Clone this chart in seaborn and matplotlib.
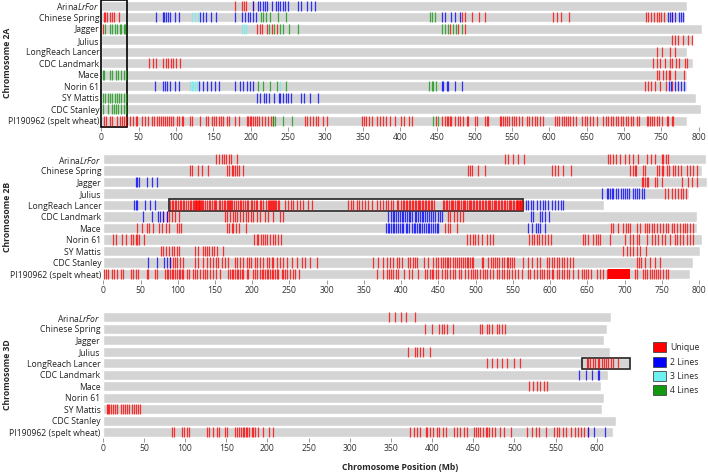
import numpy as np
import pandas as pd
import seaborn as sns
import matplotlib.pyplot as plt
from matplotlib.patches import Rectangle, Patch

lines = ["ArinaLrFor", "Chinese Spring", "Jagger", "Julius", "LongReach Lancer",
         "CDC Landmark", "Mace", "Norin 61", "SY Mattis", "CDC Stanley", "PI190962"]
line_labels = ["Arina$\\mathit{LrFor}$", "Chinese Spring", "Jagger", "Julius", "LongReach Lancer",
               "CDC Landmark", "Mace", "Norin 61", "SY Mattis", "CDC Stanley", "PI190962 (spelt wheat)"]

# chromosome lengths (Mb) per line
len_2A = [785, 782, 805, 792, 785, 792, 784, 785, 797, 803, 785]
len_2B = [810, 804, 811, 786, 672, 798, 798, 804, 802, 792, 788]
len_3D = [617, 612, 609, 616, 640, 614, 605, 609, 607, 624, 620]

# ---- chromosome 2A ----
unique_2A = {
    "ArinaLrFor": [179, 189, 191, 194, 203],
    "Chinese Spring": [3, 5, 7, 12, 14, 17, 24, 483, 487, 497, 506, 514, 605, 611, 616, 626,
                       730, 733, 737, 740, 744, 747, 750, 754, 765],
    "Jagger": [2, 208, 212, 215, 222, 229, 235, 467, 478, 487],
    "Julius": [764, 768, 773, 779, 786, 791],
    "LongReach Lancer": [745, 751, 762, 768],
    "CDC Landmark": [64, 69, 73, 83, 87, 90, 93, 96, 100, 105, 739, 744, 748, 755, 762, 764,
                     770, 774, 782, 785],
    "Mace": [744, 747, 753, 757, 760, 762, 768, 780],
    "Norin 61": [728, 733, 737, 742, 748, 757, 765],
    "PI190962": [3, 6, 11, 14, 21, 24.5, 27.5, 30.5, 33, 39, 42, 46.5, 48, 55, 58.5, 63, 67.5,
                 70.5, 74, 77.5, 79.5, 82, 85, 87.5, 91, 94, 96.5, 101, 104.5, 107.5, 110, 119,
                 122, 132, 140, 143, 148, 151, 153.5, 157, 160, 163.5, 168, 171.5, 179, 185, 195,
                 197, 199, 201, 203.5, 206, 208, 211.5, 215, 219, 223.5, 227, 230, 273, 276,
                 279.5, 284, 287.5, 290.5, 296.5, 302, 349, 352, 355, 359, 363, 369, 373, 378,
                 381, 387, 394, 402, 405.5, 412.5, 416, 448, 456, 460, 463, 465, 467, 469, 474,
                 478, 480.5, 485, 489.5, 491.5, 500.5, 503.5, 514, 517, 518.5, 534, 536, 538.5,
                 541, 543.5, 546, 549.5, 552.5, 556, 560, 563, 570, 573, 576.5, 581, 584, 587.5,
                 592, 608, 610, 613.5, 616.5, 620, 622.5, 625.5, 628.5, 632, 636, 643.5, 648,
                 651, 654.5, 659, 663.5, 672.5, 676, 679, 682.5, 686, 689.5, 692.5, 696, 699,
                 703, 706, 709, 712.5, 717, 720.5, 730.5, 732.5, 735, 737.5, 740.5, 744, 747.5,
                 750.5, 757.5, 759.5, 764, 766],
}
two_2A = {
    "ArinaLrFor": [203, 210, 213, 216, 219, 222, 229, 234, 237, 240, 243, 246, 250, 263, 267,
                   276, 281, 286],
    "Chinese Spring": [73, 82, 84.5, 87, 90, 92, 99, 104.5, 132, 136, 140, 147, 154, 179, 188,
                       192, 196, 199, 203, 207, 456, 460, 468, 474, 481, 759, 762, 765, 768,
                       774, 776, 779],
    "Norin 61": [72, 82, 85, 87.5, 92, 99, 104.5, 131, 136, 141, 147, 152, 157, 179, 186, 190,
                 195, 199, 203, 456, 458, 463, 465, 474, 483, 760, 763, 768, 773, 777, 780],
    "SY Mattis": [208, 212, 217.5, 221, 224, 231, 238, 240, 244, 247, 250, 254.5, 267, 271.5,
                  280, 290],
}
three_2A = {
    "Chinese Spring": [122, 125, 129],
    "Jagger": [189, 191, 194],
    "Norin 61": [119, 121, 123, 126, 128, 239],
}
four_2A = {
    "Chinese Spring": [214, 217, 221, 226, 237, 247, 440, 443, 447],
    "Jagger": [5, 12, 15, 18, 21.5, 25, 27, 30, 32, 224, 231, 240, 243, 252, 264, 456, 460,
               464, 471, 475, 483],
    "Mace": [2, 4, 12, 15, 20, 23, 27, 30, 33],
    "Norin 61": [210, 217, 226, 235, 247, 439.5, 442.5, 444.5, 449],
    "SY Mattis": [2, 5, 9, 12, 15, 18, 21.5, 24, 27, 30, 33],
    "CDC Stanley": [2, 9, 14, 17, 20, 23, 26, 30, 33],
    "PI190962": [230, 233, 243, 255, 444.5, 451.5],
}

# ---- chromosome 2B ----
unique_2B = {
    "ArinaLrFor": [152, 156, 159, 162, 165, 169, 172, 179, 539.5, 544, 550.5, 557, 565, 678,
                   680.5, 685, 688.5, 694, 700.5, 706.5, 711, 718.5, 730, 735, 741, 750, 752,
                   755.5, 759],
    "Chinese Spring": [117, 119, 127.5, 132, 141, 165.5, 169, 172.5, 174.5, 177, 179, 182.5,
                       187, 490, 492.5, 495, 503.5, 512.5, 602, 606.5, 611, 618, 628, 707.5,
                       711, 714, 716, 725, 727.5, 743, 746.5, 750, 752, 756.5, 760, 764.5,
                       767.5, 772, 776.5, 783.5, 788, 791.5, 797],
    "Jagger": [723, 725, 727.5, 730.5, 732, 741, 744, 750, 777, 785.5, 790, 797],
    "Julius": [754.5, 759, 763.5, 768, 772, 775.5, 779, 782.5],
    "LongReach Lancer": [90, 92, 94, 96.5, 98, 100, 102.5, 104, 107, 109, 111, 113.5, 116, 118,
                         120, 122, 123, 124, 125, 126, 127, 128, 129, 130, 131, 132, 134, 137,
                         139, 141.5, 143, 146, 148, 150.5, 152, 155, 157, 160, 162, 164, 165.5,
                         167, 168.5, 170, 171.5, 173, 175, 178, 180.5, 183, 185, 188, 190.5,
                         193, 195, 198, 200, 203, 205.5, 207, 210, 212, 215, 218, 221, 222,
                         223.5, 225, 226.5, 228, 229.5, 231, 232.5, 234, 236, 244, 248.5,
                         251.5, 255, 259.5, 264, 268.5, 275, 280, 329, 332.5, 335.5, 340.5,
                         344, 347, 351.5, 356, 360.5, 367, 371.5, 376, 379.5, 383, 387, 389.5,
                         394, 396, 400, 402, 404.5, 406, 408, 410.5, 412, 414, 416.5, 418, 420,
                         422.5, 424, 426, 428.5, 430, 432, 434, 436.5, 438, 440, 442, 444, 456,
                         458, 460.5, 462, 464, 466.5, 468, 470, 472, 474.5, 476, 478, 480, 482.5,
                         484, 486, 488, 490.5, 492, 494, 496, 498, 500.5, 502, 504, 506, 508.5,
                         510, 512, 514, 516.5, 518, 520, 522, 524.5, 526, 528, 530, 532, 534.5,
                         536, 538, 540, 542, 544.5, 546, 548, 550, 552, 554, 555, 556, 557, 558,
                         559, 560, 561, 562],
    "CDC Landmark": [80.5, 85, 88.5, 92, 96.5, 102, 163.5, 165.5, 170, 174, 177, 180, 183.5,
                     187, 191.5, 194.5, 198, 201.5, 206, 210.5, 217, 221.5, 228.5, 237.5, 241,
                     463.5, 465.5, 471, 474.5, 479, 483.5],
    "Mace": [45.5, 51.5, 58.5, 62, 67, 75, 78.5, 84, 88.5, 99.5, 102, 104, 165.5, 169, 172.5,
             174.5, 178, 182.5, 191.5, 459, 463.5, 465.5, 474.5, 681.5, 685, 691.5, 698.5, 702,
             705, 707.5, 717, 721, 727.5, 730, 733, 736.5, 739.5, 743, 747.5, 752, 755.5, 759,
             763.5, 766.5, 770, 774.5, 778, 781, 784.5, 788, 792.5],
    "Norin 61": [12.5, 17, 24.5, 30.5, 37, 40.5, 44, 45.5, 48.5, 54.5, 202.5, 206, 208, 211.5,
                 214, 217, 220.5, 224, 227.5, 230.5, 235, 238.5, 488, 492.5, 496, 499, 503.5,
                 508, 515.5, 519.5, 523, 572, 575.5, 578.5, 582, 585.5, 589, 593, 597.5, 601,
                 644, 647, 651.5, 658, 661.5, 665, 667, 680.5, 700.5, 707.5, 712, 716.5, 720,
                 730, 736.5, 741, 745.5, 750, 754.5, 761, 768, 771, 774.5, 778, 783.5, 788,
                 792.5],
    "SY Mattis": [77, 80.5, 84, 88.5, 92, 95, 99.5, 102, 123, 127.5, 133.5, 136.5, 139.5,
                  142.5, 145.5, 148.5, 152.5, 160.5, 698.5, 703, 707.5, 712, 717, 721, 729],
    "CDC Stanley": [89.5, 93, 96.5, 99.5, 103, 106.5, 123, 127.5, 133.5, 139.5, 143.5, 147.5,
                    151.5, 154.5, 159, 163.5, 168, 177, 180, 183.5, 188, 192.5, 196, 199, 203.5,
                    207, 210.5, 215, 219.5, 223, 226, 228.5, 233, 237.5, 241.5, 246.5, 253,
                    259.5, 266.5, 271, 277.5, 287.5, 362.5, 369.5, 376, 380.5, 385, 389.5, 394,
                    397.5, 400.5, 409.5, 412, 415.5, 418.5, 421, 430.5, 436.5, 443, 447, 450,
                    453, 456.5, 459, 461, 463.5, 465.5, 469, 472.5, 475.5, 478, 481, 483.5,
                    485.5, 488, 490, 492.5, 495, 497, 508, 510.5, 517, 520.5, 524, 526, 528.5,
                    532, 535, 538, 542, 544, 546.5, 548.5, 551, 564, 571, 575.5, 582, 586.5,
                    595.5, 599, 602, 605.5, 609, 612.5, 615.5, 618.5, 622.5, 626.5, 631, 716.5,
                    720, 722, 727.5, 734, 741, 747.5],
    "PI190962": [0.5, 3.5, 6.5, 11.5, 14.5, 19, 23.5, 27, 37, 40.5, 44, 47, 58.5, 60.5, 69.5,
                 71.5, 83, 85, 87.5, 89.5, 92, 94, 96.5, 98.5, 101, 103, 105.5, 107.5, 112,
                 115.5, 120, 123, 126, 130, 133.5, 136.5, 139.5, 143.5, 147.5, 151.5, 156.5,
                 168, 170, 172.5, 174.5, 177, 179, 181.5, 183.5, 186, 188, 192.5, 194.5, 201.5,
                 203.5, 207, 210.5, 212.5, 215, 217, 219.5, 221.5, 224, 226, 228.5, 230.5, 233,
                 235, 239.5, 241.5, 244, 247, 250.5, 254.5, 257.5, 263, 368, 375, 380.5, 384,
                 386, 389.5, 393, 396, 404, 411, 414, 423, 432, 435, 439, 441, 443, 447, 450,
                 454.5, 459, 461, 465.5, 470, 472.5, 478, 480, 485.5, 490, 493.5, 496, 499,
                 502.5, 506, 509.5, 512.5, 515.5, 519.5, 524, 528.5, 532, 535, 538, 542, 545.5,
                 548.5, 553, 557.5, 562, 571, 573, 578.5, 582, 586.5, 589, 592, 595.5, 599,
                 602, 604.5, 609.5, 612.5, 615.5, 618.5, 622.5, 626, 630.5, 638, 642.5, 645.5,
                 648.5, 651.5, 654.5, 662.5, 667, 671.5, 676, 714, 717, 725, 727.5, 730, 734,
                 736.5, 739.5, 742, 745.5, 747.5, 752, 755.5, 759],
}
# solid run of unique variants (start, end) in Mb
block_2B = {"PI190962": (678, 708)}
two_2B = {
    "Jagger": [44, 45.5, 48.5, 58.5, 65, 72.5],
    "Julius": [669.5, 676, 678, 680.5, 683, 685, 688.5, 691.5, 695, 697.5, 700.5, 703, 706.5,
               712, 714, 716.5, 720, 723, 726],
    "LongReach Lancer": [41, 44, 45.5, 56, 62.5, 69.5, 567.5, 571, 574, 577.5, 582, 586.5, 590,
                         593, 597.5, 602, 606.5, 611, 614.5, 618],
    "CDC Landmark": [53.5, 65, 74, 76, 80.5, 85, 383, 386, 389, 391, 393, 395.5, 398, 400.5,
                     403, 405, 407.5, 410, 412, 415, 418, 420, 422.5, 425, 428, 430, 432.5, 435,
                     437, 440, 443, 446, 449, 452, 454.5, 574, 577, 586.5, 589, 593, 599],
    "Mace": [380, 382, 384, 386.5, 389, 391, 393, 396, 398.5, 401, 403, 406, 408, 411, 414,
             417, 419, 421, 424, 426, 428.5, 431, 434, 436, 438, 440, 442.5, 445, 447.5, 449.5,
             571, 575.5, 581, 584, 586.5, 593],
    "CDC Stanley": [60.5, 71.5, 81.5, 85, 89.5],
}

# ---- chromosome 3D ----
unique_3D = {
    "ArinaLrFor": [348, 355, 362, 369, 379],
    "Chinese Spring": [391.5, 399.5, 409, 412, 414.5, 418, 425, 458.5, 460.5, 466.5, 469.5,
                       472.5, 478.5, 481.5, 484.5, 488.5],
    "Julius": [371, 379.5, 381.5, 385.5, 389.5, 397.5],
    "LongReach Lancer": [466.5, 472.5, 478.5, 484.5, 490.5, 499, 507, 588, 590, 592, 595, 598,
                         601, 603, 606, 609, 611, 614, 617, 620, 626],
    "Mace": [518, 522.5, 527, 531, 536, 540],
    "SY Mattis": [5.5, 6.5, 8, 9.5, 12, 15, 17.5, 22, 25, 27, 29, 32.5, 35, 38, 40.5, 43, 45.5],
    "PI190962": [84, 86.5, 96, 98.5, 103, 105, 127, 129.5, 134.5, 138.5, 141.5, 148.5, 150.5,
                 160.5, 163.5, 166, 167.5, 170, 171.5, 174, 175.5, 178, 181, 183, 185, 189,
                 194.5, 202.5, 206.5, 373.5, 378, 382, 386, 392.5, 394, 397.5, 401.5, 405.5,
                 409, 413.5, 417, 426.5, 430, 434, 439, 442, 451, 453.5, 456, 458, 462.5, 465.5,
                 467, 469.5, 472.5, 476.5, 482.5, 487.5, 495.5, 515, 521, 526, 530, 539, 548,
                 551.5, 554.5, 559.5, 562.5, 568.5, 573.5, 577.5, 581.5, 584.5, 590],
}
two_3D = {
    "CDC Landmark": [579, 587, 594, 602, 603],
    "PI190962": [590, 597, 610],
}

cat_names = ["Unique", "2 Lines", "3 Lines", "4 Lines"]
cat_colors = ["#ff0000", "#0000ff", "#6ff0f0", "#119911"]

sns.set_theme(style="white")
plt.rcParams["font.family"] = ["Open Sans", "DejaVu Sans"]
plt.rcParams["mathtext.fontset"] = "custom"
plt.rcParams["mathtext.rm"] = "Open Sans"
plt.rcParams["mathtext.it"] = "Open Sans:italic"

FS = 6.2
W, H = 708, 472
fig = plt.figure(figsize=(W / 100, H / 100), dpi=100)


def panel(left, top, bottom, scale, xmax, lengths, layers, title, ticks, blocks=None):
    ax = fig.add_axes([left / W, 1 - bottom / H, xmax * scale / W, (bottom - top) / H])
    df = pd.DataFrame({"line": line_labels, "length": lengths})
    sns.barplot(data=df, x="length", y="line", orient="h", color="#d4d4d4", saturation=1,
                width=0.88, ax=ax)
    for cats, color in layers:
        for name, pos in cats.items():
            i = lines.index(name)
            ax.vlines(pos, i - 0.44, i + 0.44, colors=color, lw=0.9, alpha=0.78)
    if blocks:
        for name, (s, e) in blocks.items():
            i = lines.index(name)
            ax.barh(i, e - s, left=s, height=0.88, color="#ff0000", lw=0)
    ax.set_xlim(0, xmax)
    ax.set_ylim(10.5, -0.5)
    ax.set_xticks(ticks)
    ax.set_xlabel("")
    ax.set_ylabel("")
    sns.despine(ax=ax, left=True, bottom=True)
    ax.tick_params(axis="y", length=0, pad=1.5, labelsize=FS, labelcolor="#222222")
    ax.tick_params(axis="x", length=3, width=0.6, color="#888888", pad=1.5, labelsize=FS,
                   labelcolor="#333333", bottom=True)
    fig.text(7 / W, 1 - (top + bottom) / 2 / H, title, rotation=90, ha="center", va="center",
             fontsize=FS, fontweight="bold")
    return ax


ax1 = panel(101.3, 0, 126.5, 0.7465, 812, len_2A,
            [(unique_2A, cat_colors[0]), (two_2A, cat_colors[1]), (three_2A, cat_colors[2]),
             (four_2A, cat_colors[3])], "Chromosome 2A", range(0, 801, 50))
ax1.add_patch(Rectangle((0, -0.5), 34.7, 11, fill=False, ec="black", lw=1.2, clip_on=False))

ax2 = panel(103.3, 153.3, 279.8, 0.7446, 812, len_2B,
            [(unique_2B, cat_colors[0]), (two_2B, cat_colors[1])], "Chromosome 2B",
            range(0, 801, 50), blocks=block_2B)
ax2.add_patch(Rectangle((88.7, 3.5), 564 - 88.7, 1, fill=False, ec="#222222", lw=1.2,
                        clip_on=False))

ax3 = panel(102.7, 311.5, 438, 0.8233, 645, len_3D,
            [(unique_3D, cat_colors[0]), (two_3D, cat_colors[1])], "Chromosome 3D",
            range(0, 601, 50))
ax3.add_patch(Rectangle((582, 3.5), 58.5, 1, fill=False, ec="#222222", lw=1.2, clip_on=False))

fig.text(400 / W, 1 - 467 / H, "Chromosome Position (Mb)", ha="center", va="center",
         fontsize=FS, fontweight="bold")

handles = [Patch(facecolor=c, edgecolor="#444444", lw=0.6) for c in cat_colors]
fig.legend(handles, cat_names, loc="upper left", bbox_to_anchor=(650 / W, 1 - 339 / H),
           frameon=False, fontsize=FS, handlelength=1.4, handleheight=1.4, labelspacing=0.5,
           handletextpad=0.5, borderaxespad=0)

fig.savefig("out.png", dpi=100)
